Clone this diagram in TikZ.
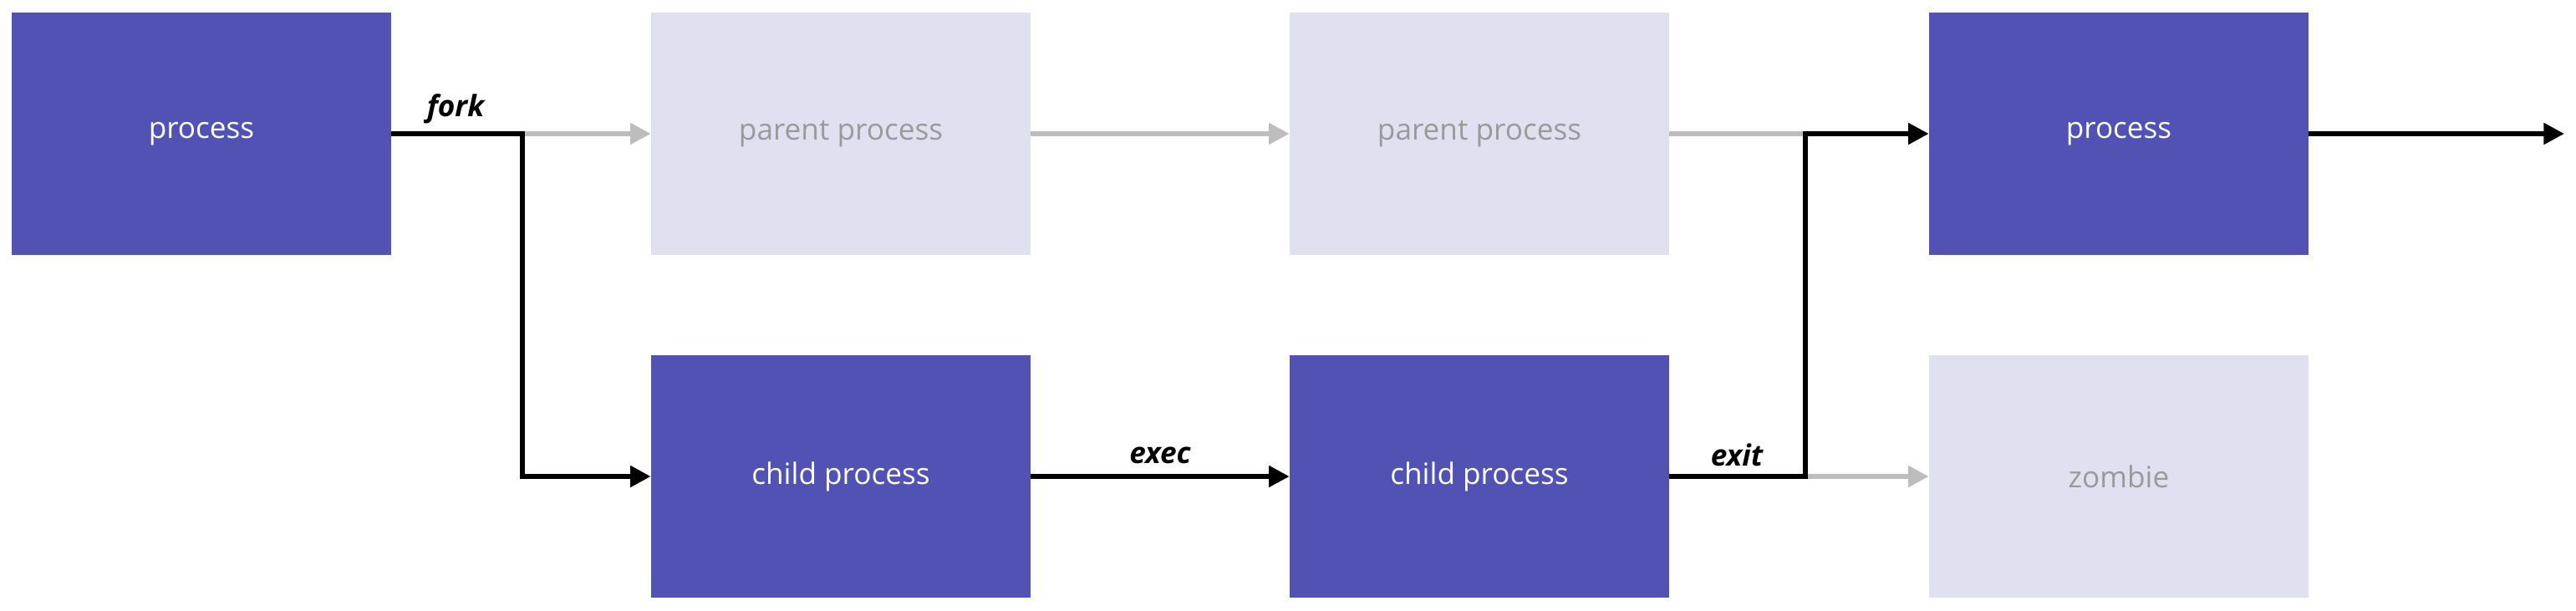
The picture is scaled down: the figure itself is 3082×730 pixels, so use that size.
\documentclass[tikz,border=0pt]{standalone}
\usepackage{fontspec}
\setmainfont{Open Sans}
\usetikzlibrary{arrows.meta}
\definecolor{dk}{HTML}{5152B4}
\definecolor{lt}{HTML}{DFE1F0}
\definecolor{gt}{HTML}{9A9A9A}
\definecolor{ga}{HTML}{BDBDBD}
\begin{document}
\begin{tikzpicture}[x=0.01cm,y=-0.01cm,
 box/.style={minimum width=4.53cm,minimum height=2.9cm,inner sep=0,font=\fontsize{10}{12}\selectfont},
 on/.style={box,fill=dk,text=white},
 off/.style={box,fill=lt,text=gt},
 bl/.style={line width=1.7pt,-{Triangle[length=7pt,width=7pt]}},
 gr/.style={bl,draw=ga},
 lab/.style={font=\fontsize{10}{12}\selectfont\bfseries\itshape,above}]
\useasboundingbox (0,0) rectangle (3082,730);
\node[on]  (p)  at (241,160) {process};
\node[off] (pa) at (1006,160) {parent process};
\node[off] (pb) at (1770,160) {parent process};
\node[on]  (q)  at (2535,160) {process};
\node[on]  (ca) at (1006,570) {child process};
\node[on]  (cb) at (1770,570) {child process};
\node[off] (z)  at (2535,570) {zombie};
\coordinate (f) at (625,160);
\coordinate (e) at (2160,570);
\coordinate (g) at (2160,160);
\coordinate (end) at (3068,160);
\draw[gr] (f) -- (pa);
\draw[gr] (pa) -- (pb);
\draw[line width=1.7pt,draw=ga] (pb) -- (g);
\draw[gr] (e) -- (z);
\draw[bl] (p.east) -- (f) |- (ca);
\draw[bl] (ca) -- node[lab]{exec} (cb);
\draw[bl] (cb) -- (e) |- (q);
\draw[bl] (q) -- (end);
\node[lab] at (545,160) {fork};
\node[lab] at (2078,570) {exit};
\end{tikzpicture}
\end{document}
